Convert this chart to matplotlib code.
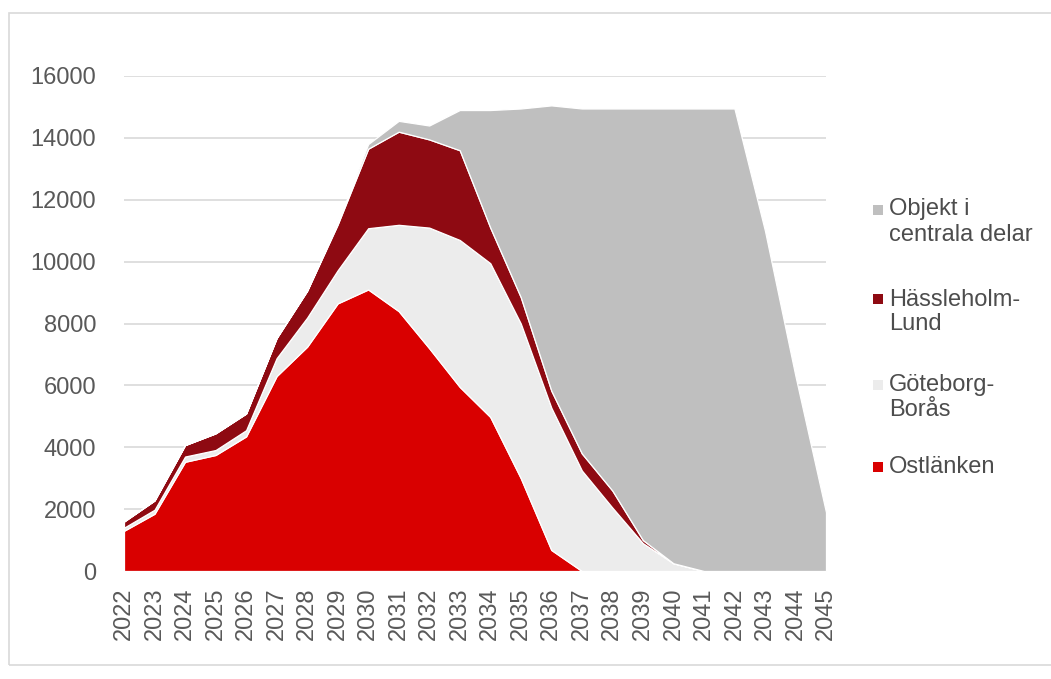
import matplotlib
matplotlib.use("Agg")
import matplotlib.pyplot as plt
from matplotlib.patches import Rectangle

plt.rcParams['font.family'] = ['Liberation Sans', 'DejaVu Sans']

years = list(range(2022, 2046))
ostlanken = [1300, 1850, 3530, 3750, 4350, 6300, 7250, 8650, 9100, 8400, 7200, 5950,
             4980, 3000, 680, 0, 0, 0, 0, 0, 0, 0, 0, 0]
goteborg_boras = [100, 130, 170, 160, 200, 580, 940, 1070, 1980, 2790, 3900, 4750,
                  4970, 5000, 4600, 3250, 2050, 900, 250, 0, 0, 0, 0, 0]
hassleholm_lund = [200, 300, 370, 540, 540, 650, 870, 1480, 2570, 3010, 2850, 2900,
                   1150, 850, 550, 550, 550, 100, 0, 0, 0, 0, 0, 0]
objekt_centrala = [0, 0, 0, 0, 0, 0, 0, 50, 150, 350, 450, 1300,
                   3800, 6100, 9220, 11150, 12350, 13950, 14700, 14950, 14950, 11000, 6300, 1900]

series_labels = ["Ostlänken", "Göteborg-\nBorås", "Hässleholm-\nLund", "Objekt i\ncentrala delar"]
colors = ["#D90000", "#ECECEC", "#8E0A12", "#BFBFBF"]
yticks = list(range(0, 16001, 2000))

W, H = 1051, 679
fig = plt.figure(figsize=(W / 100, H / 100), dpi=100)
ax = fig.add_axes([124 / W, 1 - 571 / H, (826 - 124) / W, (571 - 76) / H])

ax.stackplot(years, ostlanken, goteborg_boras, hassleholm_lund, objekt_centrala,
             colors=colors, edgecolor="white", linewidth=0.9, zorder=2)

ax.set_xlim(years[0], years[-1])
ax.set_ylim(0, 16000)
ax.set_yticks(yticks)
ax.set_yticklabels([str(v) for v in yticks])
ax.set_xticks(years)
ax.set_xticklabels([str(y) for y in years], rotation=90)
ax.grid(axis="y", color="#D9D9D9", linewidth=1.2, zorder=0)
ax.grid(axis="x", visible=False)
ax.set_axisbelow(True)
for s in ax.spines.values():
    s.set_visible(False)
ax.tick_params(axis="both", length=0, labelsize=17, labelcolor="#595959")
ax.tick_params(axis="y", pad=20)
ax.tick_params(axis="x", pad=12)

# frame around the chart area
fig.patches.append(Rectangle((9 / W, 1 - 665 / H), 1.2, (665 - 13) / H,
                             transform=fig.transFigure, fill=False,
                             edgecolor="#D9D9D9", linewidth=1.2))

# legend (manual, marker aligned with first line like the original)
legend_entries = [
    (3, [("Objekt i", 209), ("centrala delar", 235)], 210),
    (2, [("Hässleholm-", 300), ("Lund", 324)], 299),
    (1, [("Göteborg-", 385), ("Borås", 410)], 385),
    (0, [("Ostlänken", 467)], 467),
]
for idx, lines, ymark in legend_entries:
    fig.patches.append(Rectangle((873 / W, 1 - (ymark + 5) / H), 10 / W, 10 / H,
                                 transform=fig.transFigure, facecolor=colors[idx],
                                 edgecolor="none"))
    for txt, yy in lines:
        fig.text(889 / W, 1 - yy / H, txt, fontsize=17, color="#4D4D4D",
                 ha="left", va="center")

fig.savefig("out.png", dpi=100)
